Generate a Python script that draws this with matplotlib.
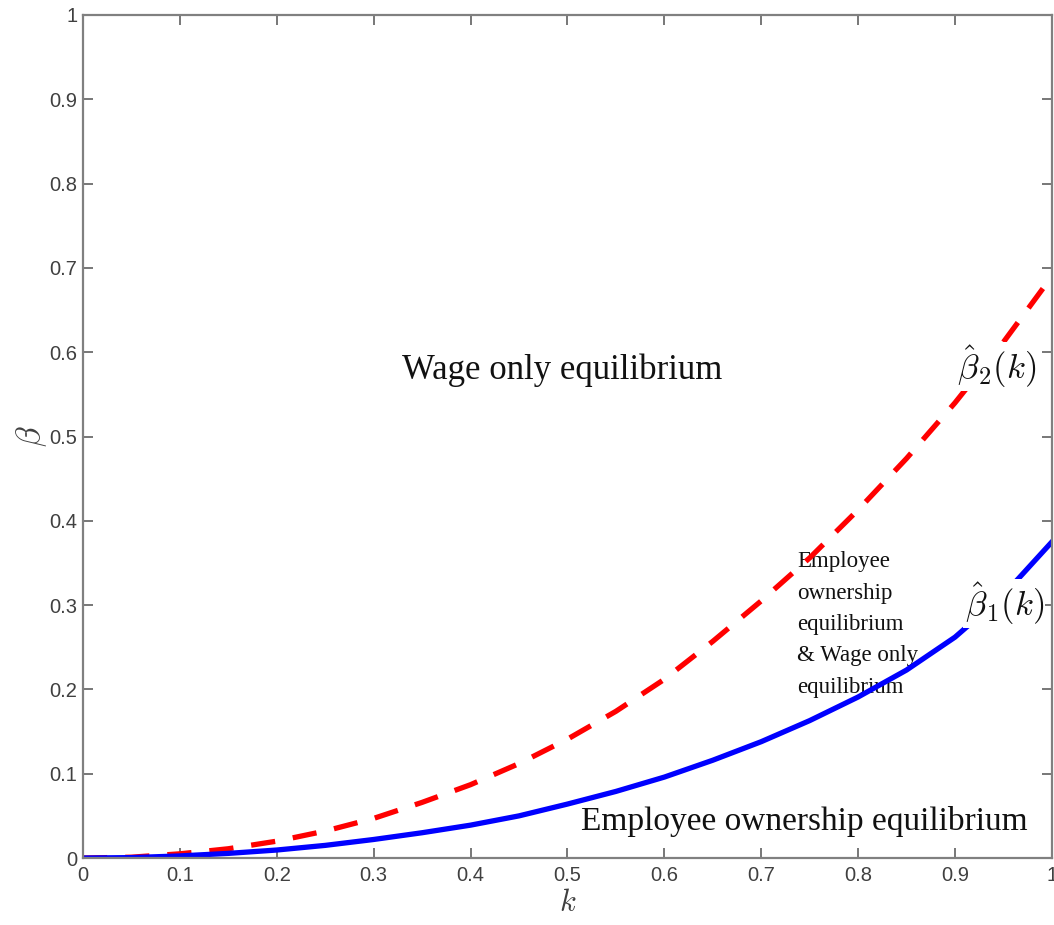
import numpy as np
import matplotlib
matplotlib.use('Agg')
import matplotlib.pyplot as plt

plt.rcParams['mathtext.fontset'] = 'cm'

# curve values
k = [0.0, 0.05, 0.1, 0.15, 0.2, 0.25, 0.3, 0.35, 0.4, 0.45, 0.5,
     0.55, 0.6, 0.65, 0.7, 0.75, 0.8, 0.85, 0.9, 0.95, 1.0]
beta1 = [0.0, 0.0005, 0.0025, 0.0055, 0.0095, 0.015, 0.022, 0.030, 0.039, 0.050, 0.064,
         0.079, 0.096, 0.116, 0.138, 0.163, 0.191, 0.223, 0.262, 0.312, 0.375]
beta2 = [0.0, 0.001, 0.005, 0.011, 0.020, 0.032, 0.047, 0.066, 0.087, 0.112, 0.141,
         0.174, 0.212, 0.257, 0.305, 0.356, 0.413, 0.474, 0.540, 0.612, 0.690]

ticks = np.round(np.arange(0, 1.01, 0.1), 1)
ticklabels = ['0' if t == 0 else ('1' if t == 1 else str(t)) for t in ticks]

fig = plt.figure(figsize=(10.54, 9.25), dpi=100)
ax = fig.add_axes([0.0787, 0.0724, 0.9193, 0.9114])

ax.plot(k, beta2, color='red', lw=3.8, dashes=(4.6, 3.4), zorder=2)
ax.plot(k, beta1, color='blue', lw=3.8, zorder=2)

ax.set_xlim(0, 1)
ax.set_ylim(0, 1)
ax.set_xticks(ticks)
ax.set_yticks(ticks)
ax.set_xticklabels(ticklabels)
ax.set_yticklabels(ticklabels)

grey = '#808080'
for s in ax.spines.values():
    s.set_color(grey)
    s.set_linewidth(1.6)
ax.tick_params(direction='in', length=7, width=1.2, color='#606060',
               labelcolor='#404040', labelsize=14.5, top=True, right=True,
               labelfontfamily='Liberation Sans')
ax.tick_params(axis='x', pad=6)
ax.tick_params(axis='y', pad=4)

ax.set_xlabel('$k$', fontsize=22, color='#404040', labelpad=2)
ax.set_ylabel(r'$\beta$', fontsize=24, color='#404040', labelpad=0)

serif = 'Liberation Serif'
ax.text(0.495, 0.579, 'Wage only equilibrium', family=serif, fontsize=25,
        ha='center', va='center', color='#111111')
ax.text(0.745, 0.043, 'Employee ownership equilibrium', family=serif, fontsize=24,
        ha='center', va='center', color='#111111', zorder=3)
ax.text(0.737, 0.364, 'Employee\nownership\nequilibrium\n& Wage only\nequilibrium',
        family=serif, fontsize=16.5, ha='left', va='top', color='#111111',
        linespacing=1.65, zorder=1)

ax.text(0.943, 0.583, r'$\hat{\beta}_2(k)$', fontsize=25, ha='center', va='center',
        color='#111111', zorder=4,
        bbox=dict(facecolor='white', edgecolor='none', pad=1))
ax.text(0.951, 0.302, r'$\hat{\beta}_1(k)$', fontsize=25, ha='center', va='center',
        color='#111111', zorder=4,
        bbox=dict(facecolor='white', edgecolor='none', pad=1))

fig.savefig('out.png', dpi=100)
